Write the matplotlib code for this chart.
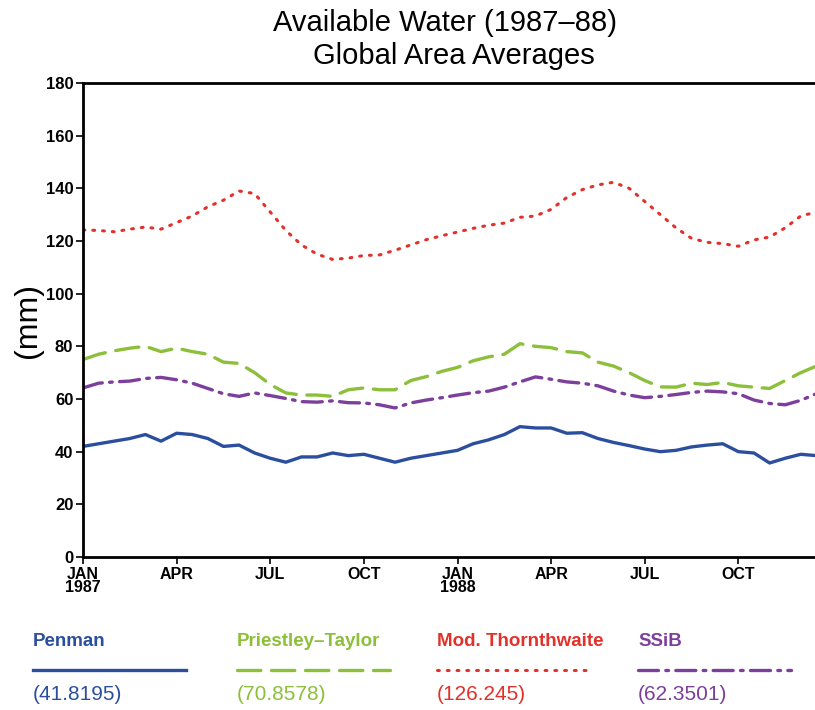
import numpy as np
import matplotlib
matplotlib.use("Agg")
import matplotlib.pyplot as plt
from matplotlib.lines import Line2D

# half-monthly values, Jan 1987 .. Jan 1989
penman = [42, 43, 44, 45, 46.5, 44, 47, 46.5, 45, 42, 42.5, 39.5, 37.5, 36, 38, 38,
          39.5, 38.5, 39, 37.5, 36, 37.5, 38.5, 39.5, 40.5, 43, 44.5, 46.5, 49.5, 49,
          49, 47, 47.2, 45, 43.5, 42.3, 41, 40, 40.5, 41.8, 42.5, 43, 40, 39.5, 35.7,
          37.5, 39, 38.5, 40]
priestley = [75, 77, 78.3, 79.3, 80, 78, 79.3, 78, 77, 74, 73.5, 70, 65.5, 62.3, 61.5,
             61.5, 61, 63.5, 64.2, 63.5, 63.5, 67, 68.5, 70.5, 72, 74.5, 76, 77, 81, 80,
             79.5, 78, 77.5, 74, 72.5, 70, 67, 64.6, 64.5, 66, 65.5, 66.3, 65, 64.5, 64,
             67, 70, 72.5, 75]
thornthwaite = [124.2, 124, 123.5, 124.5, 125.3, 124.5, 127, 129.5, 133, 135.5, 139, 138,
                131, 124, 118.5, 115, 113, 113.5, 114.5, 114.7, 116.5, 118.5, 120.5, 122,
                123.4, 124.8, 126, 126.8, 129, 129.5, 132, 136.5, 139.5, 141.3, 142.3, 140,
                135, 130, 125, 121, 119.5, 119, 118, 120.4, 121.5, 125, 129.5, 131, 132]
ssib = [64.2, 66, 66.5, 66.8, 67.8, 68.2, 67.3, 66, 64, 62, 61, 62.3, 61.3, 60.2, 59,
        58.8, 59.3, 58.6, 58.5, 57.8, 56.6, 58.5, 59.6, 60.5, 61.5, 62.4, 63, 64.5, 66.5,
        68.4, 67.5, 66.5, 66, 65, 63, 61.5, 60.5, 61, 61.7, 62.5, 63, 62.7, 62, 59.6, 58.3,
        57.8, 59.5, 62, 63.5]
months = np.arange(len(penman)) * 0.5

names = ["Penman", "Priestley\u2013Taylor", "Mod. Thornthwaite", "SSiB"]
means = ["(41.8195)", "(70.8578)", "(126.245)", "(62.3501)"]
colors = ["#2b4f9e", "#8cbf3a", "#e2312b", "#7c3f9b"]
styles = ["-", (0, (7, 3.2)), (0, (0.6, 2.6)), (0, (6, 2.2, 0.8, 2.2))]
widths = [2.4, 2.4, 2.2, 2.4]

xtick_pos = [0, 3, 6, 9, 12, 15, 18, 21]
xtick_lab = ["JAN\n1987", "APR", "JUL", "OCT", "JAN\n1988", "APR", "JUL", "OCT"]

font = ["Liberation Sans", "DejaVu Sans"]
plt.rcParams["font.family"] = font

fig = plt.figure(figsize=(8.15, 7.1), dpi=100)
ax = fig.add_axes([83 / 815, 1 - 557 / 710, (832 - 83) / 815, (557 - 83) / 710])

series = [penman, priestley, thornthwaite, ssib]
for vals, c, ls, lw in zip(series, colors, styles, widths):
    ax.plot(months, vals, color=c, linestyle=ls, linewidth=lw,
            dash_capstyle="round", solid_capstyle="round")

ax.set_xlim(0, 24)
ax.set_ylim(0, 180)
ax.set_yticks(range(0, 181, 20))
ax.set_xticks(xtick_pos)
ax.set_xticklabels(xtick_lab, fontweight="bold", fontsize=11.5, linespacing=0.85)
for lab in ax.get_yticklabels():
    lab.set_fontweight("bold")
    lab.set_fontsize(12)
ax.tick_params(axis="both", direction="out", length=5, width=1.2, pad=2)
for sp in ax.spines.values():
    sp.set_linewidth(2)

ax.set_ylabel("(mm)", fontsize=23)
ax.yaxis.set_label_coords(-0.054, 0.5)

fig.text(445 / 815, 1 - 23 / 710, "Available Water (1987\u201388)", ha="center",
         va="center", fontsize=21)
fig.text(454 / 815, 1 - 56 / 710, "Global Area Averages", ha="center",
         va="center", fontsize=21)

# legend block under the axes
x0s = [33, 237, 437, 638]
for x0, name, m, c, ls, lw in zip(x0s, names, means, colors, styles, widths):
    fx = x0 / 815
    fig.text(fx, 1 - 642 / 710, name, color=c, fontsize=13.5, fontweight="bold",
             va="center", ha="left")
    fig.add_artist(Line2D([fx, (x0 + 153) / 815], [1 - 670 / 710] * 2, color=c,
                          linestyle=ls, linewidth=lw, dash_capstyle="round",
                          transform=fig.transFigure))
    fig.text(fx, 1 - 695 / 710, m, color=c, fontsize=15, va="center", ha="left")

fig.savefig("out.png", dpi=100)
